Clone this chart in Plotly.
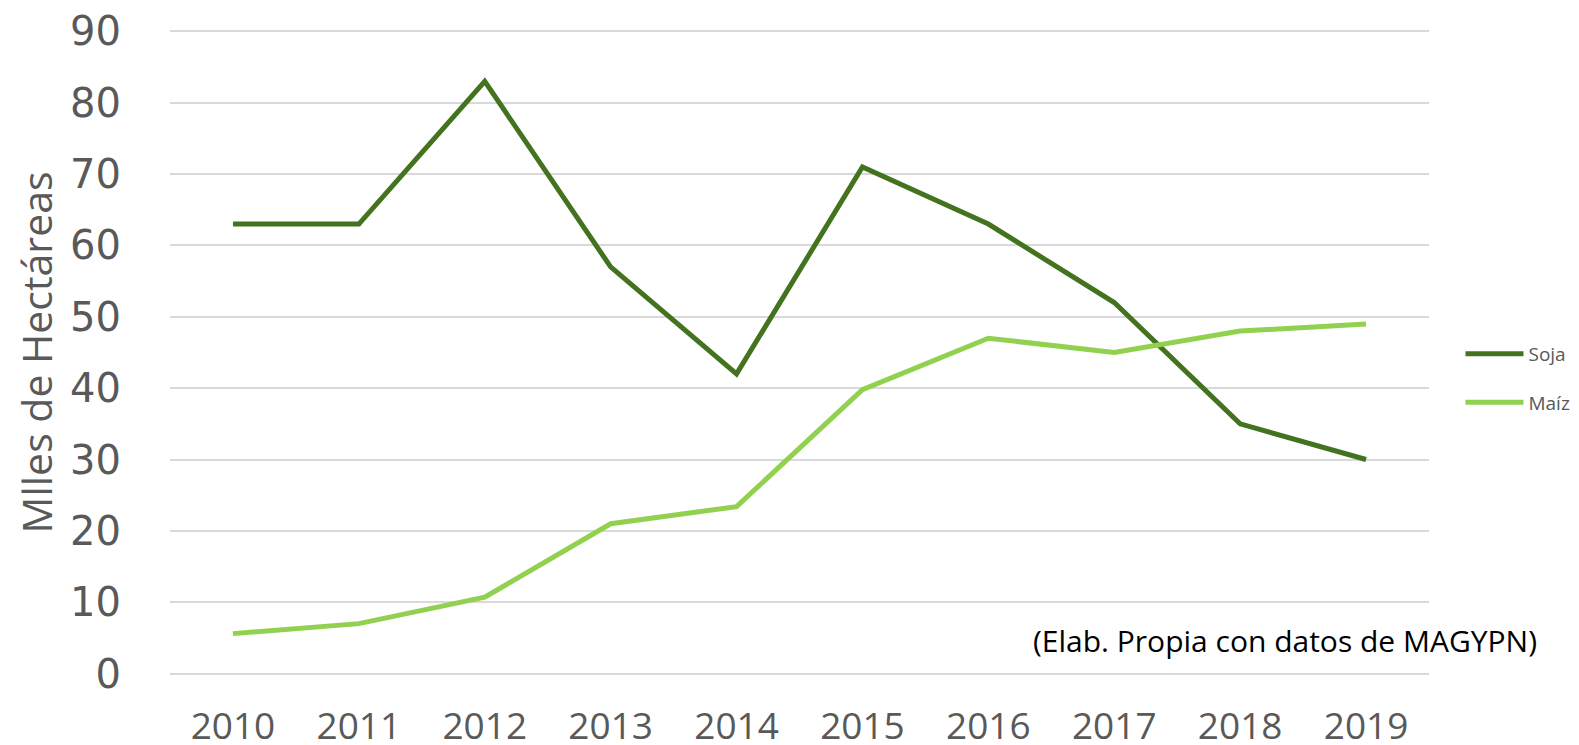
import plotly.graph_objects as go

years = ["2010", "2011", "2012", "2013", "2014", "2015", "2016", "2017", "2018", "2019"]
soja = [63, 63, 83, 57, 42, 71, 63, 52, 35, 30]
maiz = [5.6, 7.0, 10.7, 21.0, 23.4, 39.8, 47.0, 45.0, 48.0, 49.0]
y_ticks = [0, 10, 20, 30, 40, 50, 60, 70, 80, 90]

fig = go.Figure()
fig.add_trace(go.Scatter(x=years, y=soja, mode="lines", name="Soja", legendgroup="a",
                         line=dict(color="#43731F", width=5)))
fig.add_trace(go.Scatter(x=years, y=maiz, mode="lines", name="Maíz", legendgroup="b",
                         line=dict(color="#92D050", width=5)))

# page body has an 8px margin, so the figure is sized/offset to compensate
fig.update_layout(
    width=1571, height=737,
    margin=dict(l=162, r=150, t=22, b=70, autoexpand=False),
    paper_bgcolor="white", plot_bgcolor="white",
    showlegend=True,
    legend=dict(x=1.025, xanchor="left", y=0.46, yanchor="middle",
                font=dict(family="Open Sans", size=19, color="#595959"),
                itemwidth=58, borderwidth=0,
                tracegroupgap=21, bgcolor="rgba(0,0,0,0)"),
    xaxis=dict(type="category", range=[-0.5, 9.5], showgrid=False, zeroline=False,
               showline=False, ticks="",
               tickfont=dict(family="Open Sans", size=37, color="#595959"),
               ticklabelstandoff=26),
    yaxis=dict(range=[-0.2, 90.2], tickvals=y_ticks, showgrid=True, gridcolor="#D9D9D9", gridwidth=2,
               zeroline=False, showline=False, ticks="",
               tickfont=dict(family="DejaVu Sans", size=40, color="#595959"),
               ticklabelstandoff=48,
               title=dict(text="Mlles de Hectáreas", standoff=22,
                          font=dict(family="Open Sans", size=41, color="#595959"))),
    annotations=[dict(text="(Elab. Propia con datos de MAGYPN)", xref="paper", yref="paper",
                      x=1.087, y=0.054, xanchor="right", yanchor="middle", showarrow=False,
                      font=dict(family="Open Sans", size=30, color="#000000"))],
)

fig.write_html("out.html")
